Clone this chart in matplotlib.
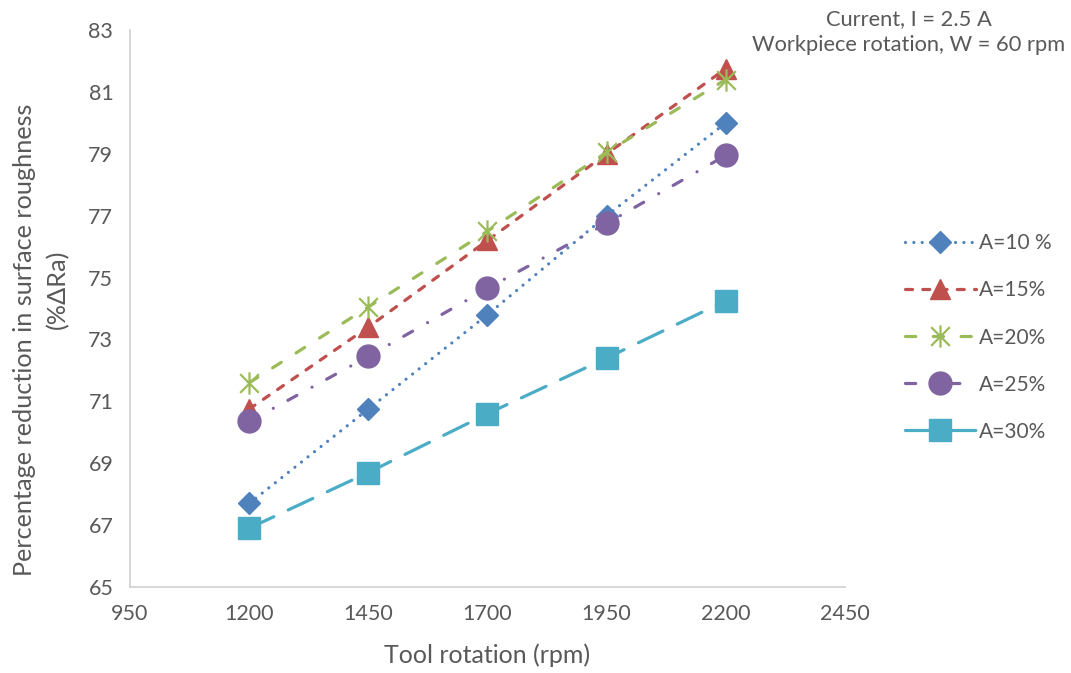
import numpy as np
import matplotlib.pyplot as plt
from matplotlib.path import Path

# tool rotation (rpm) and % reduction in Ra for each amplitude
rpm = [1200, 1450, 1700, 1950, 2200]
a10 = [67.7, 70.75, 73.8, 77.0, 80.0]
a15 = [70.75, 73.4, 76.2, 79.0, 81.75]
a20 = [71.6, 74.05, 76.5, 79.05, 81.4]
a25 = [70.35, 72.45, 74.65, 76.75, 78.95]
a30 = [66.9, 68.7, 70.6, 72.4, 74.25]
series_names = ['A=10 %', 'A=15%', 'A=20%', 'A=25%', 'A=30%']

x_ticks = [950, 1200, 1450, 1700, 1950, 2200, 2450]
y_ticks = [65, 67, 69, 71, 73, 75, 77, 79, 81, 83]

plt.rcParams['font.family'] = ['Lato', 'DejaVu Sans']
txt = '#595959'

# asterisk marker: vertical bar plus an X
star = Path([(0, -0.5), (0, 0.5), (-0.42, -0.42), (0.42, 0.42), (-0.42, 0.42), (0.42, -0.42)],
            [Path.MOVETO, Path.LINETO, Path.MOVETO, Path.LINETO, Path.MOVETO, Path.LINETO])

fig = plt.figure(figsize=(10.71, 6.73), dpi=100)
ax = fig.add_axes([130/1071, 86/673, 715/1071, 557/673])

lw = 2.3
styles = [
    dict(color='#4F81BD', marker='D', ms=11, dashes=(0.01, 2.6)),
    dict(color='#C0504D', marker='^', ms=15, dashes=(2.2, 3.2)),
    dict(color='#9BBB59', marker=star, ms=16, dashes=(3.2, 5.5), mfc='none', mew=1.6),
    dict(color='#8064A2', marker='o', ms=16.5, dashes=(3.2, 5.4, 0.01, 5.2)),
    dict(color='#4BACC6', marker='s', ms=16, dashes=(8.5, 5)),
]
data = [a10, a15, a20, a25, a30]

for vals, name, st in zip(data, series_names, styles):
    ax.plot(rpm, vals, label=name, lw=lw, dash_capstyle='round', **st)

ax.set_xlim(950, 2450)
ax.set_ylim(65, 83)
ax.set_xticks(x_ticks)
ax.set_yticks(y_ticks)
ax.tick_params(length=0, labelsize=15.5, labelcolor=txt, pad=12)
for s in ['top', 'right']:
    ax.spines[s].set_visible(False)
for s in ['left', 'bottom']:
    ax.spines[s].set_color('#D0D0D0')
    ax.spines[s].set_linewidth(1.2)

ax.set_xlabel('Tool rotation (rpm)', fontsize=18, color=txt, labelpad=14)

# y title, two rotated lines
fig.text(25/1071, 1 - 340/673, 'Percentage reduction in surface roughness',
         rotation=90, ha='center', va='center', fontsize=18.2, color=txt)
fig.text(58/1071, 1 - 289/673, '(%ΔRa)',
         rotation=90, ha='center', va='center', fontsize=18.2, color=txt)

fig.text(909/1071, 1 - 32/673, 'Current, I = 2.5 A\nWorkpiece rotation, W = 60 rpm',
         ha='center', va='center', fontsize=15.75, color=txt, linespacing=1.4)

fig.legend(loc='center left', bbox_to_anchor=(886/1071, 0.4985), frameon=False,
           fontsize=15, labelcolor=txt, handlelength=3.4, handletextpad=0.15,
           labelspacing=1.3, numpoints=1)

fig.savefig('out.png', dpi=100)
